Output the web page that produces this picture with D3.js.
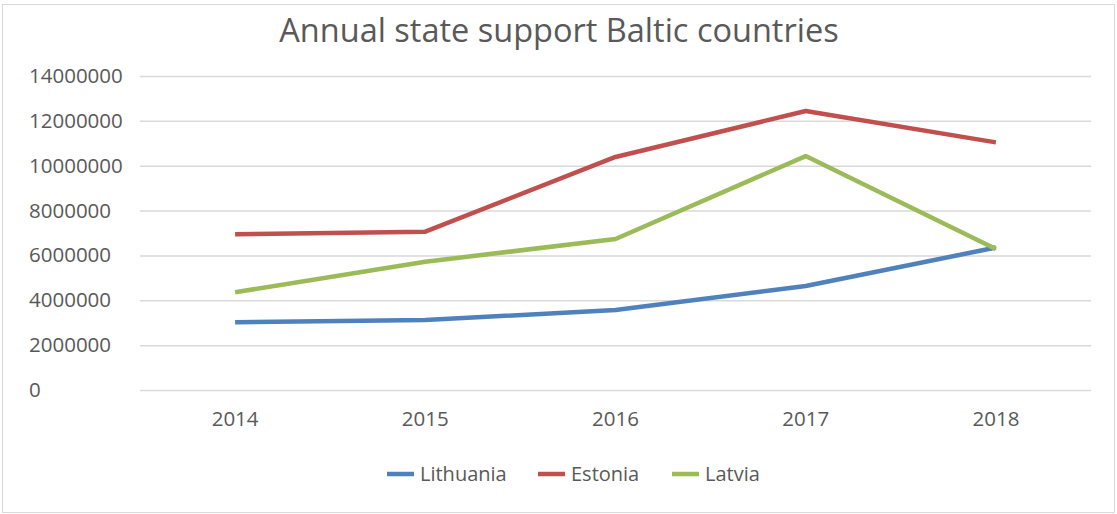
<!DOCTYPE html>
<html>
<head>
<meta charset="utf-8">
<script src="https://cdn.jsdelivr.net/npm/d3@7"></script>
<style>
  body { margin: 0; background: #fff; }
  #myPlot { width: 1117px; height: 514px; }
  text { font-family: "Open Sans", sans-serif; fill: #595959; }
</style>
</head>
<body>
<div id="myPlot"></div>
<script>
const years = ["2014", "2015", "2016", "2017", "2018"]
const yTicks = [0, 2000000, 4000000, 6000000, 8000000, 10000000, 12000000, 14000000]
const lithuania = [3020000, 3120000, 3570000, 4640000, 6350000]
const estonia = [6940000, 7060000, 10390000, 12440000, 11040000]
const latvia = [4360000, 5720000, 6730000, 10430000, 6290000]
const seriesNames = ["Lithuania", "Estonia", "Latvia"]
const seriesColors = ["#4f81bd", "#c0504d", "#9bbb59"]

const rootSelector = "#myPlot"
const clientWidth = 1117
const clientHeight = 514
const margin = {top: 76, right: 26, bottom: 124, left: 140}
const width = clientWidth - margin.left - margin.right
const height = clientHeight - margin.top - margin.bottom

const svg = d3.select(rootSelector).append("svg")
    .attr("width", clientWidth)
    .attr("height", clientHeight)

// chart frame
svg.append("rect")
    .attr("x", 2.5)
    .attr("y", 4.5)
    .attr("width", 1112)
    .attr("height", 508)
    .attr("fill", "#fff")
    .attr("stroke", "#d9d9d9")

svg.append("text")
    .attr("x", 559)
    .attr("y", 42)
    .attr("text-anchor", "middle")
    .style("font-size", "32.5px")
    .text("Annual state support Baltic countries")

const g = svg.append("g")
    .attr("transform", `translate(${margin.left}, ${margin.top})`)

const xScale = d3.scaleBand()
    .domain(years)
    .range([0, width])

const yScale = d3.scaleLinear()
    .domain([0, 14000000])
    .range([height, 0])

const yAxis = d3.axisLeft(yScale)
    .tickValues(yTicks)
    .tickSize(-width)
    .tickFormat(d3.format("d"))

g.append("g")
    .attr("class", "y axis")
    .call(yAxis)
    .call(ax => ax.select(".domain").remove())
    .call(ax => ax.selectAll("line").attr("stroke", "#d9d9d9").attr("stroke-width", 1.5))
    .call(ax => ax.selectAll("text")
        .attr("x", 29 - margin.left)
        .attr("text-anchor", "start")
        .attr("fill", "#595959")
        .style("font-size", "20.5px")
        .style("font-family", "'Open Sans', sans-serif"))

const xAxis = d3.axisBottom(xScale)
    .tickSize(0)

g.append("g")
    .attr("class", "x axis")
    .attr("transform", `translate(0, ${height})`)
    .call(xAxis)
    .call(ax => ax.select(".domain").remove())
    .call(ax => ax.selectAll("text")
        .attr("y", 29)
        .attr("dy", "0.32em")
        .attr("fill", "#595959")
        .style("font-size", "20.5px")
        .style("font-family", "'Open Sans', sans-serif"))

const allSeries = [lithuania, estonia, latvia]

const line = d3.line()
    .x((d, i) => xScale(years[i]) + xScale.bandwidth() / 2)
    .y(d => yScale(d))

g.selectAll(".series")
    .data(allSeries)
    .enter().append("path")
    .attr("class", "series")
    .attr("fill", "none")
    .attr("stroke", (d, i) => seriesColors[i])
    .attr("stroke-width", 4.5)
    .attr("stroke-linejoin", "round")
    .attr("d", line)

// legend
const legendX = [387, 538, 672]
const legend = svg.append("g")
    .attr("class", "legend")
    .selectAll("g")
    .data(seriesNames)
    .enter().append("g")
    .attr("transform", (d, i) => `translate(${legendX[i]}, 474)`)

legend.append("line")
    .attr("x1", 0)
    .attr("x2", 27)
    .attr("stroke", (d, i) => seriesColors[i])
    .attr("stroke-width", 4.5)

legend.append("text")
    .attr("x", 33)
    .attr("dy", "0.35em")
    .style("font-size", "20px")
    .text(d => d)
</script>
</body>
</html>
